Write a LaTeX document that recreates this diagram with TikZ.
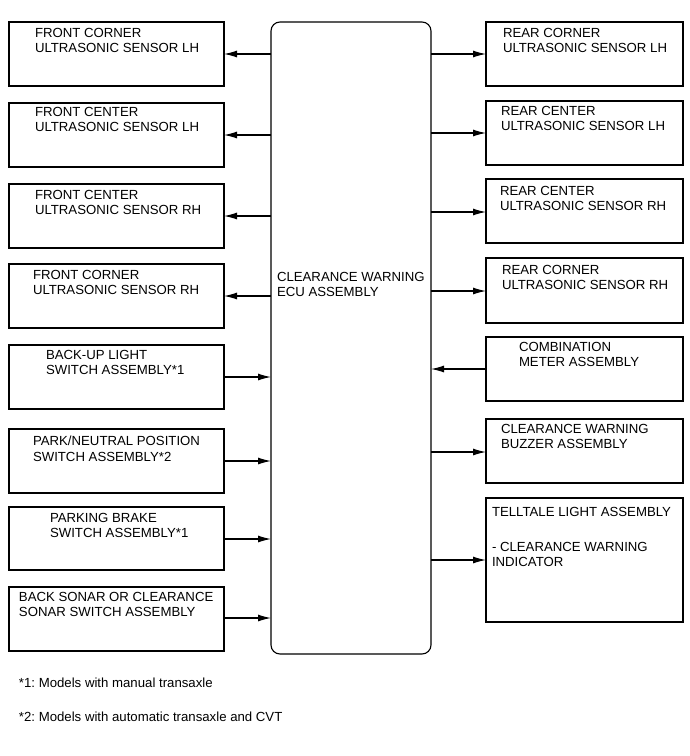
\documentclass[tikz,border=0pt]{standalone}
\usepackage{fontspec}
\setmainfont{Liberation Sans}
\usetikzlibrary{arrows.meta}
\frenchspacing
\begin{document}
\begin{tikzpicture}[x=1pt,y=-1pt,
  box/.style={draw=black,line width=1.1pt,inner sep=0pt,outer sep=0pt,anchor=north west,minimum width=#1},
  lbox/.style={box=215pt,minimum height=64pt},
  rbox/.style={box=197pt,minimum height=64pt},
  txt/.style={anchor=north west,inner sep=0pt,outer sep=0pt,align=left,font=\fontsize{13.2}{15.5}\selectfont},
  arr/.style={line width=1.1pt,-{Latex[length=13pt,width=7pt]}}]
\useasboundingbox (0,0) rectangle (689,756);
% ECU
\node[draw=black,line width=1.1pt,rounded corners=9pt,anchor=north west,inner sep=0pt,outer sep=0pt,minimum width=160pt,minimum height=632pt] (ecu) at (271,22) {};
\node[txt] (ecut) at (277,272) {CLEARANCE WARNING\\ECU ASSEMBLY};
% left boxes
\node[lbox] (L1) at (9,22) {};
\node[lbox] (L2) at (9,103) {};
\node[lbox] (L3) at (9,184) {};
\node[lbox] (L4) at (9,264) {};
\node[lbox] (L5) at (9,345) {};
\node[lbox] (L6) at (9,429) {};
\node[lbox,minimum height=63pt] (L7) at (9,507) {};
\node[lbox] (L8) at (9,587) {};
\node[txt] (L1t) at (35,28) {FRONT CORNER\\ULTRASONIC SENSOR LH};
\node[txt] (L2t) at (35,107) {FRONT CENTER\\ULTRASONIC SENSOR LH};
\node[txt] (L3t) at (35,190) {FRONT CENTER\\ULTRASONIC SENSOR RH};
\node[txt] (L4t) at (33,270) {FRONT CORNER\\ULTRASONIC SENSOR RH};
\node[txt] (L5t) at (46,350) {BACK-UP LIGHT\\SWITCH ASSEMBLY*1};
\node[txt] (L6t) at (33,436) {PARK/NEUTRAL POSITION\\SWITCH ASSEMBLY*2};
\node[txt] (L7t) at (50,513) {PARKING BRAKE\\SWITCH ASSEMBLY*1};
\node[txt] (L8t) at (19,592) {BACK SONAR OR CLEARANCE\\SONAR SWITCH ASSEMBLY};
% right boxes
\node[rbox] (R1) at (486,22) {};
\node[rbox] (R2) at (486,101) {};
\node[rbox] (R3) at (486,179) {};
\node[rbox,minimum height=65pt] (R4) at (486,258) {};
\node[rbox] (R5) at (486,337) {};
\node[rbox] (R6) at (486,419) {};
\node[rbox,minimum height=124pt] (R7) at (486,498) {};
\node[txt] (R1t) at (503,28) {REAR CORNER\\ULTRASONIC SENSOR LH};
\node[txt] (R2t) at (501,106) {REAR CENTER\\ULTRASONIC SENSOR LH};
\node[txt] (R3t) at (500,186) {REAR CENTER\\ULTRASONIC SENSOR RH};
\node[txt] (R4t) at (502,265) {REAR CORNER\\ULTRASONIC SENSOR RH};
\node[txt] (R5t) at (519,342) {COMBINATION\\METER ASSEMBLY};
\node[txt] (R6t) at (501,424) {CLEARANCE WARNING\\BUZZER ASSEMBLY};
\node[txt] (R7t) at (492,507) {TELLTALE LIGHT ASSEMBLY\\[19.5pt]- CLEARANCE WARNING\\INDICATOR};
% y levels
\coordinate (yL1) at (0,54);
\coordinate (yL2) at (0,135);
\coordinate (yL3) at (0,216);
\coordinate (yL4) at (0,296);
\coordinate (yL5) at (0,377);
\coordinate (yL6) at (0,461);
\coordinate (yL7) at (0,539);
\coordinate (yL8) at (0,618);
\coordinate (yR1) at (0,54);
\coordinate (yR2) at (0,133);
\coordinate (yR3) at (0,212);
\coordinate (yR4) at (0,291);
\coordinate (yR5) at (0,369);
\coordinate (yR6) at (0,452);
\coordinate (yR7) at (0,560);
% connectors
\foreach \n in {1,2,3,4} {
  \draw[arr] (ecu.west |- yL\n) -- (L\n.east |- yL\n);
}
\foreach \n in {5,6,7,8} {
  \draw[arr] (L\n.east |- yL\n) -- (ecu.west |- yL\n);
}
\foreach \n in {1,2,3,4,6,7} {
  \draw[arr] (ecu.east |- yR\n) -- (R\n.west |- yR\n);
}
\draw[arr] (R5.west |- yR5) -- (ecu.east |- yR5);
% footnotes
\node[txt] (fn1) at (19,678) {*1: Models with manual transaxle};
\node[txt] (fn2) at (19,712) {*2: Models with automatic transaxle and CVT};
\end{tikzpicture}
\end{document}
